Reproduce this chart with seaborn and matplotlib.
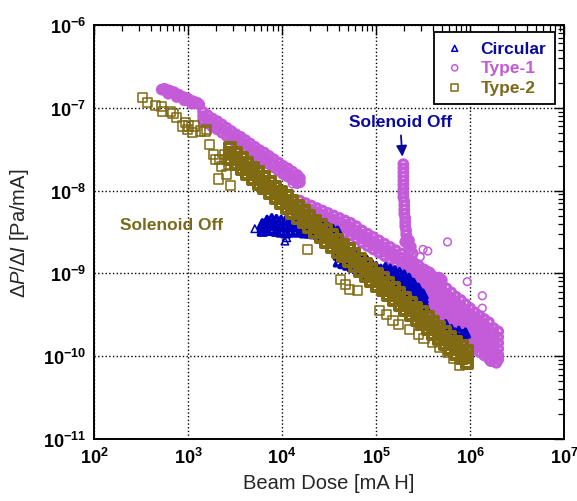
import numpy as np
import pandas as pd
import matplotlib
matplotlib.use("Agg")
import matplotlib.pyplot as plt
import seaborn as sns

# ---- data, stored as log10 values ----
# dense stretches are written column by column: (log10 dose, [log10 dP/dI, ...])

# Circular
circ_band_1 = [
    (3.79, [-8.40, -8.45, -8.49]), (3.84, [-8.36, -8.42, -8.48]),
    (3.89, [-8.34, -8.41, -8.47]), (3.94, [-8.35, -8.42, -8.49]),
    (3.99, [-8.36, -8.43, -8.50]), (4.04, [-8.36, -8.43, -8.51]),
    (4.09, [-8.37, -8.43, -8.50]), (4.14, [-8.37, -8.43, -8.49]),
    (4.19, [-8.38, -8.44, -8.50]), (4.24, [-8.38, -8.45, -8.51]),
    (4.29, [-8.40, -8.46, -8.51]), (4.34, [-8.41, -8.47, -8.52]),
    (4.39, [-8.42, -8.48, -8.53]), (4.44, [-8.43, -8.48, -8.53]),
    (4.49, [-8.45, -8.50, -8.54]), (4.54, [-8.47, -8.51, -8.55]),
    (4.59, [-8.49, -8.53, -8.56]),
]
circ_band_2 = [
    (4.60, [-8.70, -8.74, -8.78, -8.86]), (4.65, [-8.72, -8.76, -8.80, -8.88]),
    (4.70, [-8.74, -8.78, -8.82, -8.90]), (4.75, [-8.76, -8.80, -8.84, -8.92]),
    (4.80, [-8.78, -8.82, -8.86, -8.94]), (4.85, [-8.81, -8.85, -8.89, -8.97]),
    (4.90, [-8.84, -8.88, -8.92, -9.00]), (4.95, [-8.88, -8.92, -8.96, -9.04]),
    (5.00, [-8.92, -8.96, -9.00, -9.08]), (5.05, [-8.95, -8.99, -9.03, -9.11]),
    (5.10, [-8.93, -8.98, -9.04, -9.14]), (5.15, [-8.95, -9.01, -9.07, -9.17]),
    (5.20, [-8.97, -9.03, -9.10, -9.20]), (5.25, [-8.99, -9.06, -9.13, -9.24]),
    (5.30, [-9.02, -9.09, -9.16, -9.28]), (5.35, [-9.06, -9.13, -9.20, -9.31]),
    (5.40, [-9.12, -9.18, -9.24, -9.35]), (5.45, [-9.18, -9.23, -9.29, -9.39]),
    (5.50, [-9.25, -9.30, -9.34, -9.43]),
    (5.72, [-9.66]), (5.76, [-9.70]), (5.80, [-9.68]), (5.84, [-9.72]),
    (5.88, [-9.70]), (5.92, [-9.74]), (5.95, [-9.72]), (5.78, [-9.75]),
    (5.86, [-9.78]), (5.74, [-9.62]), (5.46, [-9.38]), (5.50, [-9.45]),
]
circ_pts_dose = [3.71, 4.03, 4.05, 5.53]
circ_pts_val = [-8.46, -8.61, -8.57, -9.40]

# Type-1
type1_band_a = [
    (2.72, [-6.78]), (2.75, [-6.77]), (2.77, [-6.80]), (2.80, [-6.79]),
    (2.82, [-6.82]), (2.85, [-6.81]), (2.87, [-6.84]), (2.90, [-6.84]),
    (2.92, [-6.86]), (2.95, [-6.87]), (2.97, [-6.88]), (3.00, [-6.89]),
    (3.02, [-6.91]), (3.05, [-6.92]), (3.07, [-6.93]), (3.10, [-6.94]),
    (3.12, [-6.96]), (2.79, [-6.83]), (2.88, [-6.87]), (2.96, [-6.91]),
    (3.04, [-6.95]),
]
type1_band_b = [
    (3.16, [-7.05, -7.10, -7.15]), (3.21, [-7.09, -7.14, -7.19]),
    (3.26, [-7.13, -7.18, -7.23]), (3.31, [-7.16, -7.21, -7.26]),
    (3.36, [-7.20, -7.25, -7.30]), (3.41, [-7.24, -7.29, -7.34]),
    (3.46, [-7.28, -7.33, -7.38]), (3.51, [-7.32, -7.37, -7.42]),
    (3.56, [-7.35, -7.40, -7.45]), (3.61, [-7.39, -7.44, -7.49]),
    (3.66, [-7.43, -7.48, -7.53]), (3.71, [-7.47, -7.52, -7.57]),
    (3.76, [-7.51, -7.56, -7.61]), (3.81, [-7.54, -7.59, -7.64]),
    (3.86, [-7.58, -7.63, -7.68]), (3.91, [-7.62, -7.67, -7.72]),
    (3.96, [-7.66, -7.71, -7.76]), (4.01, [-7.70, -7.75, -7.80]),
    (4.06, [-7.73, -7.78, -7.83]), (4.11, [-7.77, -7.82, -7.87]),
    (4.16, [-7.81, -7.86, -7.91]), (4.19, [-7.85, -7.90]),
]
type1_band_c = [
    (4.19, [-8.12, -8.17, -8.22, -8.27]), (4.25, [-8.15, -8.20, -8.25, -8.30]),
    (4.31, [-8.18, -8.23, -8.28, -8.33]), (4.37, [-8.21, -8.26, -8.31, -8.36]),
    (4.43, [-8.24, -8.29, -8.34, -8.39]), (4.49, [-8.27, -8.32, -8.37, -8.42]),
    (4.55, [-8.30, -8.35, -8.40, -8.45]), (4.61, [-8.33, -8.38, -8.43, -8.48]),
    (4.67, [-8.36, -8.41, -8.46, -8.51]), (4.73, [-8.39, -8.44, -8.49, -8.54]),
    (4.79, [-8.43, -8.48, -8.53, -8.58]), (4.85, [-8.48, -8.53, -8.58, -8.63]),
    (4.91, [-8.52, -8.57, -8.62, -8.67]), (4.97, [-8.56, -8.61, -8.66, -8.71]),
    (5.03, [-8.60, -8.65, -8.70, -8.75]), (5.09, [-8.64, -8.69, -8.74, -8.79]),
    (5.15, [-8.68, -8.73, -8.78, -8.83]), (5.21, [-8.72, -8.77, -8.82, -8.87]),
    (5.27, [-8.76, -8.81, -8.86, -8.91]), (5.33, [-8.81, -8.86, -8.91, -8.96]),
    (5.39, [-8.86, -8.91, -8.96, -9.01]), (5.45, [-8.90, -8.95, -9.00, -9.05]),
    (5.51, [-8.95, -9.00, -9.05, -9.10]), (5.57, [-8.99, -9.04, -9.09, -9.14]),
]
# solenoid off spike
type1_band_d = [
    (5.29, [-7.68, -7.73, -7.78, -7.83, -7.88, -7.93, -7.98, -8.03, -8.08]),
    (5.30, [-8.13, -8.18, -8.23, -8.28]),
    (5.31, [-8.33, -8.38, -8.43, -8.62]),
    (5.32, [-8.48, -8.53]), (5.33, [-8.58]), (5.35, [-8.60]), (5.34, [-8.65]),
    (5.37, [-8.68]), (5.36, [-8.73]), (5.39, [-8.76]),
]
type1_band_e = [
    (5.35, [-8.83, -8.90, -8.96, -9.03, -9.09]),
    (5.40, [-8.89, -8.96, -9.02, -9.09, -9.15]),
    (5.45, [-8.95, -9.02, -9.08, -9.15, -9.21]),
    (5.50, [-9.01, -9.08, -9.14, -9.21, -9.27]),
    (5.55, [-8.98, -9.05, -9.13, -9.20, -9.27, -9.35, -9.42]),
    (5.60, [-9.03, -9.10, -9.18, -9.25, -9.32, -9.40, -9.47]),
    (5.65, [-9.08, -9.15, -9.23, -9.30, -9.37, -9.45, -9.52]),
    (5.70, [-9.13, -9.20, -9.28, -9.35, -9.42, -9.50, -9.57]),
    (5.75, [-9.18, -9.25, -9.33, -9.40, -9.47, -9.55, -9.62]),
    (5.80, [-9.23, -9.30, -9.38, -9.45, -9.52, -9.60, -9.67]),
    (5.85, [-9.28, -9.35, -9.43, -9.50, -9.57, -9.65, -9.72]),
    (5.90, [-9.32, -9.39, -9.47, -9.54, -9.61, -9.69, -9.76]),
    (5.95, [-9.37, -9.44, -9.52, -9.59, -9.66, -9.74, -9.81]),
    (6.00, [-9.42, -9.49, -9.57, -9.64, -9.71, -9.79, -9.86]),
    (6.05, [-9.47, -9.54, -9.62, -9.69, -9.76, -9.84, -9.91]),
    (6.10, [-9.51, -9.58, -9.66, -9.73, -9.80, -9.88, -9.95]),
    (6.15, [-9.55, -9.62, -9.70, -9.77, -9.84, -9.92, -9.99]),
    (6.20, [-9.59, -9.66, -9.74, -9.81, -9.88, -9.96, -10.03]),
    (6.25, [-9.66, -9.73, -9.80, -9.87, -9.94, -10.02]),
    (6.30, [-9.70, -9.77, -9.84, -9.91, -9.98, -10.04]),
    (6.22, [-10.06]), (6.28, [-10.08]), (5.67, [-9.05]), (5.70, [-9.08]),
]
type1_pts_dose = [3.66, 3.85, 4.11, 3.50, 6.31, 6.18,
                  5.76, 5.97, 6.13, 6.13, 5.50, 5.55, 5.47]
type1_pts_val = [-7.58, -7.73, -7.92, -7.45, -10.03, -10.00,
                 -8.62, -9.10, -9.27, -9.42, -8.71, -8.73, -8.80]

# Type-2
type2_band = [
    (3.45, [-7.48, -7.55, -7.62]), (3.51, [-7.54, -7.61, -7.68]),
    (3.57, [-7.60, -7.67, -7.74]), (3.63, [-7.66, -7.73, -7.80]),
    (3.69, [-7.72, -7.79, -7.86]), (3.75, [-7.78, -7.85, -7.92]),
    (3.81, [-7.83, -7.90, -7.97]), (3.87, [-7.89, -7.96, -8.03]),
    (3.93, [-7.95, -8.02, -8.09]), (3.99, [-8.01, -8.08, -8.15]),
    (4.05, [-8.07, -8.14, -8.21]), (4.11, [-8.13, -8.20, -8.27]),
    (4.17, [-8.19, -8.26, -8.33]), (4.23, [-8.24, -8.31, -8.38]),
    (4.29, [-8.30, -8.37, -8.44]), (4.35, [-8.36, -8.43, -8.50]),
    (4.41, [-8.42, -8.49, -8.56]), (4.47, [-8.48, -8.55, -8.62]),
    (4.53, [-8.54, -8.61, -8.68]), (4.59, [-8.60, -8.67, -8.74]),
    (4.65, [-8.65, -8.72, -8.79]), (4.71, [-8.71, -8.78, -8.85]),
    (4.77, [-8.77, -8.84, -8.91]), (4.83, [-8.83, -8.90, -8.97]),
    (4.89, [-8.89, -8.96, -9.03]), (4.95, [-8.95, -9.02, -9.09]),
    (5.01, [-9.01, -9.08, -9.15]), (5.07, [-9.06, -9.13, -9.20]),
    (5.13, [-9.12, -9.19, -9.26]), (5.19, [-9.18, -9.25, -9.32]),
    (5.25, [-9.24, -9.31, -9.38]), (5.31, [-9.30, -9.37, -9.44]),
    (5.37, [-9.36, -9.43, -9.50]), (5.43, [-9.42, -9.49, -9.56]),
    (5.49, [-9.47, -9.54, -9.61]), (5.55, [-9.53, -9.60, -9.67]),
    (5.61, [-9.59, -9.66, -9.73]), (5.67, [-9.65, -9.72, -9.79]),
    (5.73, [-9.71, -9.78, -9.85]), (5.79, [-9.77, -9.84, -9.91]),
    (5.85, [-9.83, -9.90, -9.97]), (5.91, [-9.88, -9.95, -10.02]),
    (5.97, [-9.94, -10.01, -10.08]),
]
type2_pts_dose = [
    2.52, 2.57, 2.65, 2.72, 2.73, 2.81, 2.84, 2.94, 2.99, 3.00, 3.07, 3.13,
    3.18, 3.20, 3.23, 3.27, 3.29, 3.34, 3.39, 3.41, 3.43, 3.36, 3.41, 3.45,
    3.32, 2.88, 2.97, 3.05,
    4.27, 4.62, 4.67, 4.72, 4.80, 5.04, 5.11, 5.18, 5.24, 5.36, 5.45, 5.51,
    5.60, 5.68, 5.76, 5.82, 5.89,
]
type2_pts_val = [
    -6.88, -6.94, -6.97, -6.98, -7.05, -7.05, -7.07, -7.22, -7.26, -7.22, -7.22, -7.28,
    -7.29, -7.26, -7.44, -7.56, -7.62, -7.62, -7.56, -7.62, -7.68, -7.71, -7.80, -7.94,
    -7.86, -7.12, -7.18, -7.30,
    -8.71, -9.07, -9.13, -9.19, -9.21, -9.45, -9.50, -9.57, -9.62, -9.68, -9.74, -9.79,
    -9.84, -9.90, -9.96, -10.03, -10.11,
]

x_tick_exp = [2, 3, 4, 5, 6, 7]
y_tick_exp = [-11, -10, -9, -8, -7, -6]

colors = {"Circular": "#0000c0", "Type-1": "#c45cda", "Type-2": "#806a12"}
text_colors = {"Circular": "#0a0a9c", "Type-1": "#c45ad4", "Type-2": "#7a6a1c"}


def band_frame(bands):
    lx, ly = [], []
    for band in bands:
        for d, vals in band:
            lx += [d] * len(vals)
            ly += vals
    return pd.DataFrame({"dose": 10.0 ** np.array(lx), "value": 10.0 ** np.array(ly)})


def point_frame(lx, ly):
    return pd.DataFrame({"dose": 10.0 ** np.array(lx), "value": 10.0 ** np.array(ly)})


series = {
    "Type-1": (band_frame([type1_band_a, type1_band_b, type1_band_c, type1_band_d, type1_band_e]),
               point_frame(type1_pts_dose, type1_pts_val)),
    "Circular": (band_frame([circ_band_1, circ_band_2]),
                 point_frame(circ_pts_dose, circ_pts_val)),
    "Type-2": (band_frame([type2_band]), point_frame(type2_pts_dose, type2_pts_val)),
}

sns.set_style("white")
plt.rcParams["font.family"] = ["Liberation Sans", "DejaVu Sans"]
plt.rcParams["mathtext.fontset"] = "custom"
plt.rcParams["mathtext.rm"] = "Liberation Sans"
plt.rcParams["mathtext.it"] = "Liberation Sans:italic"
plt.rcParams["mathtext.bf"] = "Liberation Sans:bold"

fig = plt.figure(figsize=(5.77, 5.02), dpi=100)
ax = fig.add_axes([0.163, 0.1235, 0.8146, 0.8247])

markers = {"Circular": "^", "Type-1": "o", "Type-2": "s"}
sizes = {"Circular": 34, "Type-1": 36, "Type-2": 50}
dense_lw = {"Circular": 2.4, "Type-1": 2.4, "Type-2": 2.9}
for name in ["Type-1", "Circular", "Type-2"]:
    dense, loose = series[name]
    sns.scatterplot(data=dense, x="dose", y="value", marker=markers[name],
                    s=sizes[name], facecolor="none", edgecolor=colors[name],
                    linewidth=dense_lw[name], ax=ax, zorder=3)
    sns.scatterplot(data=loose, x="dose", y="value", marker=markers[name],
                    s=sizes[name] * 0.85, facecolor="none", edgecolor=colors[name],
                    linewidth=1.1, ax=ax, label=name, zorder=3)

ax.set_xscale("log")
ax.set_yscale("log")
ax.set_xlim(10.0 ** x_tick_exp[0], 10.0 ** x_tick_exp[-1])
ax.set_ylim(10.0 ** y_tick_exp[0], 10.0 ** y_tick_exp[-1])
ax.set_xticks([10.0 ** e for e in x_tick_exp])
ax.set_xticklabels([r"$\mathbf{10^{%d}}$" % e for e in x_tick_exp])
ax.set_yticks([10.0 ** e for e in y_tick_exp])
ax.set_yticklabels([r"$\mathbf{10^{%d}}$" % e for e in y_tick_exp])
ax.xaxis.set_minor_locator(matplotlib.ticker.LogLocator(base=10, subs=np.arange(2, 10), numticks=20))
ax.yaxis.set_minor_locator(matplotlib.ticker.LogLocator(base=10, subs=np.arange(2, 10), numticks=20))
ax.xaxis.set_minor_formatter(matplotlib.ticker.NullFormatter())
ax.yaxis.set_minor_formatter(matplotlib.ticker.NullFormatter())
ax.tick_params(which="both", direction="in", top=True, right=True, colors="black")
ax.tick_params(which="major", length=7, width=1.0, labelsize=13, pad=6)
ax.tick_params(which="minor", length=4, width=0.9)
ax.grid(True, which="major", color="black", linestyle=":", linewidth=1.0)
for sp in ax.spines.values():
    sp.set_color("black")
    sp.set_linewidth(1.4)

ax.set_xlabel("Beam Dose [mA H]", fontsize=14.5, labelpad=4)
ax.set_ylabel(r"$\Delta P/\Delta I$ [Pa/mA]", fontsize=14.5, labelpad=8)

# annotations
ax.annotate("Solenoid Off", xy=(10.0 ** 5.28, 10.0 ** -7.59), xytext=(0.651, 0.766),
            textcoords="axes fraction", ha="center", va="center",
            fontsize=12.5, fontweight="bold", color=text_colors["Circular"],
            arrowprops=dict(arrowstyle="-|>", color=text_colors["Circular"], lw=1.3,
                            mutation_scale=16, shrinkA=2, shrinkB=0))
ax.text(0.164, 0.519, "Solenoid Off", transform=ax.transAxes, ha="center", va="center",
        fontsize=12.5, fontweight="bold", color=text_colors["Type-2"])

handles, labels = ax.get_legend_handles_labels()
order = [labels.index(n) for n in ["Circular", "Type-1", "Type-2"]]
leg = ax.legend([handles[i] for i in order], [labels[i] for i in order],
                loc="upper right", bbox_to_anchor=(0.981, 0.983), borderaxespad=0,
                frameon=True, fancybox=False, framealpha=1, edgecolor="black",
                prop={"weight": "bold", "size": 12.5}, handlelength=1.4,
                handletextpad=0.8, borderpad=0.5, labelspacing=0.25, markerscale=0.8)
leg.get_frame().set_linewidth(1.3)
for t in leg.get_texts():
    t.set_color(text_colors[t.get_text()])

fig.savefig("out.png", dpi=100)
